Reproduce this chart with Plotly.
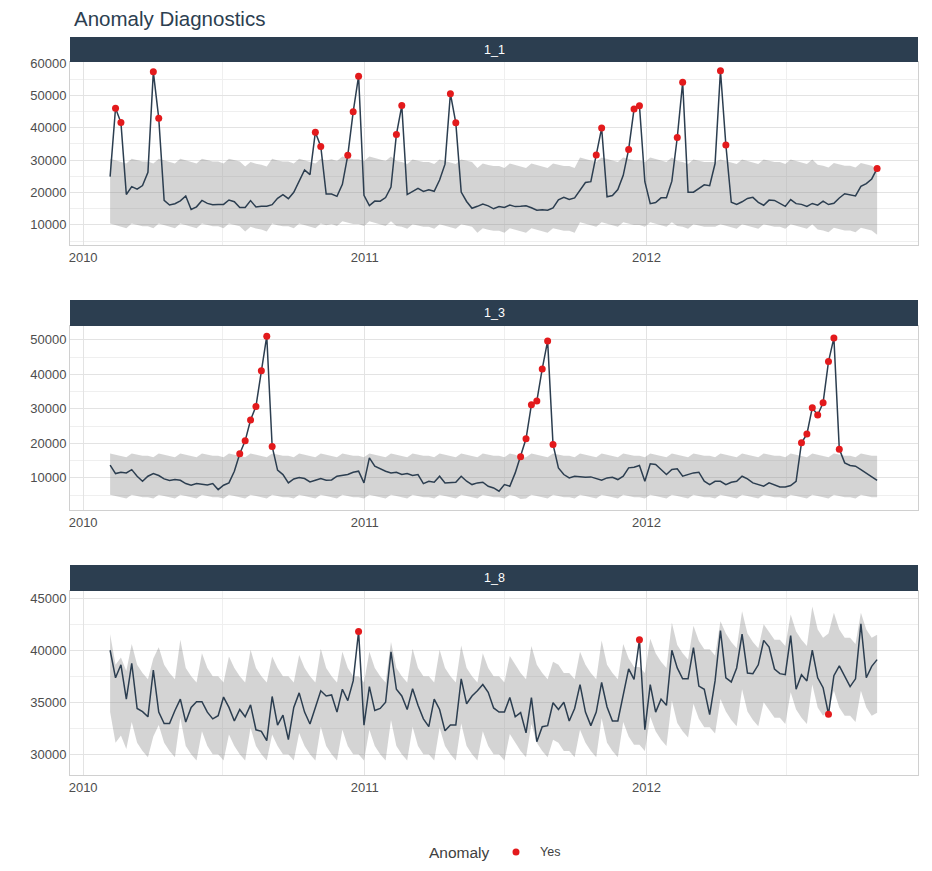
import pandas as pd
import plotly.graph_objects as go

# ---------------- data ----------------
start_date = "2010-02-05"
n_weeks = 143
panel_labels = ["1_1", "1_3", "1_8"]
legend_title = "Anomaly"
legend_item = "Yes"
chart_title = "Anomaly Diagnostics"

dept1_values = [
    24924.50, 46039.49, 41595.55, 19403.54, 21827.90, 21043.39, 22136.64, 26229.21, 57258.43, 42960.91,
    17596.96, 16145.35, 16555.11, 17413.94, 18926.74, 14773.04, 15580.43, 17558.09, 16637.62, 16216.27,
    16328.72, 16333.14, 17688.76, 17150.84, 15360.45, 15381.82, 17508.41, 15536.40, 15740.13, 15793.87,
    16241.78, 18194.74, 19354.23, 18122.52, 20094.19, 23388.03, 26978.34, 25543.04, 38640.93, 34238.88,
    19549.39, 19552.84, 18820.29, 22517.56, 31497.65, 44912.86, 55931.23, 19124.58, 15984.24, 17359.70,
    17341.47, 18461.18, 21665.76, 37887.17, 46845.87, 19363.83, 20327.61, 21280.40, 20334.23, 20881.10,
    20398.09, 23873.79, 28762.37, 50510.31, 41512.39, 20138.19, 17235.15, 15136.78, 15741.60, 16434.15,
    15883.52, 14978.09, 15682.81, 15363.50, 16148.87, 15654.85, 15766.60, 15922.41, 15295.55, 14539.79,
    14689.24, 14537.37, 15277.27, 17746.68, 18535.48, 17859.30, 18337.68, 20797.58, 23077.55, 23351.80,
    31579.90, 39886.06, 18689.54, 19050.66, 20911.25, 25293.49, 33305.92, 45773.03, 46788.75, 23350.88,
    16567.69, 16894.40, 18365.10, 18378.16, 23510.49, 36988.49, 54060.10, 20124.22, 20113.03, 21140.07,
    22366.88, 22107.70, 28952.86, 57592.12, 34684.21, 16976.19, 16347.60, 17147.44, 18164.20, 18517.79,
    16963.55, 16065.49, 17666.00, 17558.82, 16633.41, 15722.82, 17823.37, 16566.18, 16348.06, 15731.18,
    16628.31, 16119.92, 17330.70, 16286.40, 16680.24, 18322.37, 19616.22, 19251.50, 18947.81, 21904.47,
    22764.01, 24185.27, 27390.81,
]
dept1_upper = [
    30400, 29900, 29600, 29000, 30400, 29900, 29600, 29600, 29000, 30400,
    29900, 29600, 29000, 30400, 29900, 29600, 29000, 30400, 29900, 29600,
    29600, 29000, 30400, 29900, 29600, 28000, 29400, 28900, 28600, 28000,
    30400, 29900, 29600, 29600, 29000, 30400, 29900, 29600, 29000, 30400,
    29900, 30300, 29700, 31100, 30600, 30300, 30300, 29700, 31100, 30600,
    30300, 29700, 31100, 29700, 29400, 28800, 30200, 29700, 29400, 29400,
    28800, 30200, 29700, 29400, 28800, 30200, 29700, 29400, 27600, 29000,
    28500, 28200, 28200, 27600, 29000, 28500, 28200, 27600, 29000, 28500,
    28200, 27600, 29000, 28500, 28200, 28200, 27600, 30800, 30300, 30000,
    29400, 30800, 30300, 30000, 29400, 30800, 30300, 30000, 30000, 29400,
    30800, 30300, 30000, 29400, 30800, 29700, 29400, 28800, 30200, 29700,
    29400, 29400, 29400, 30200, 29700, 29400, 28800, 30200, 29700, 29400,
    28800, 30200, 29700, 29400, 29400, 28800, 30200, 29700, 29400, 28800,
    30200, 28600, 28300, 27700, 29100, 28600, 28300, 28300, 27700, 29100,
    28600, 28300, 27000,
]
dept1_lower = [
    10400, 9900, 9600, 9000, 10400, 9900, 9600, 9600, 9000, 10400,
    9900, 9600, 9000, 10400, 9900, 9600, 9000, 10400, 9900, 9600,
    9600, 9000, 10400, 9900, 9600, 8000, 9400, 8900, 8600, 8000,
    10400, 9900, 9600, 9600, 9000, 10400, 9900, 9600, 9000, 10400,
    9900, 10300, 9700, 11100, 10600, 10300, 10300, 9700, 11100, 10600,
    10300, 9700, 11100, 9700, 9400, 8800, 10200, 9700, 9400, 9400,
    8800, 10200, 9700, 9400, 8800, 10200, 9700, 9400, 7600, 9000,
    8500, 8200, 8200, 7600, 9000, 8500, 8200, 7600, 9000, 8500,
    8200, 7600, 9000, 8500, 8200, 8200, 7600, 10800, 10300, 10000,
    9400, 10800, 10300, 10000, 9400, 10800, 10300, 10000, 10000, 9400,
    10800, 10300, 10000, 9400, 10800, 9700, 9400, 8800, 10200, 9700,
    9400, 9400, 9400, 10200, 9700, 9400, 8800, 10200, 9700, 9400,
    8800, 10200, 9700, 9400, 9400, 8800, 10200, 9700, 9400, 8800,
    10200, 8600, 8300, 7700, 9100, 8600, 8300, 8300, 7700, 9100,
    8600, 8300, 7000,
]
dept1_anomaly_idx = [1, 2, 8, 9, 38, 39, 44, 45, 46, 53, 54, 63, 64,
                     90, 91, 96, 97, 98, 105, 106, 113, 114, 142]

dept3_values = [
    13700, 11260, 11650, 11450, 12400, 10480, 9030, 10480, 11260, 10680,
    9710, 9220, 9500, 9320, 8350, 7870, 8350, 8260, 7970, 8350,
    6610, 7870, 8550, 11940, 16970, 20740, 26750, 30710, 41070, 51040,
    19100, 12230, 10970, 8550, 9710, 10100, 9810, 8840, 9320, 9810,
    9320, 9420, 10480, 10770, 10970, 11650, 11940, 8550, 15810, 13390,
    12610, 11940, 11450, 11650, 10970, 11260, 10680, 10970, 8350, 9030,
    8740, 10480, 8550, 8740, 8740, 10480, 9030, 8060, 8550, 8740,
    7580, 7100, 6130, 8060, 7580, 11450, 16100, 21330, 31200, 32260,
    41560, 49690, 19680, 12900, 10970, 10000, 10480, 10290, 10190, 10290,
    9710, 9320, 10000, 10190, 9520, 10480, 12900, 13100, 13580, 9030,
    14070, 13870, 12420, 10970, 12420, 12610, 10480, 10970, 11450, 11650,
    9030, 8060, 9030, 9030, 8060, 8740, 9030, 10480, 9710, 8550,
    8060, 7580, 8550, 8060, 7390, 7390, 7770, 9030, 20160, 22680,
    30330, 28200, 31780, 43690, 50560, 18330, 14360, 13580, 13390, 12420,
    11450, 10480, 9300,
]
dept3_upper = [
    17100, 16700, 16400, 16000, 17100, 16700, 16400, 16400, 16000, 17100,
    16700, 16400, 16000, 17100, 16700, 16400, 16000, 17100, 16700, 16400,
    16400, 16000, 17100, 16700, 16400, 16000, 17100, 16700, 16400, 16000,
    17100, 16700, 16400, 16400, 16000, 17100, 16700, 16400, 16000, 17100,
    16700, 16400, 16000, 17100, 16700, 16400, 16400, 16000, 17100, 16700,
    16400, 16000, 17100, 16700, 16400, 16000, 17100, 16700, 16400, 16400,
    16000, 17100, 16700, 16400, 16000, 17100, 16700, 16400, 16000, 17100,
    16700, 16400, 16400, 16000, 17100, 16700, 15900, 16000, 17100, 16700,
    16400, 16000, 17100, 16700, 16400, 16400, 16000, 17100, 16700, 16400,
    16000, 17100, 16700, 16400, 16000, 17100, 16700, 16400, 16400, 16000,
    17100, 16700, 16400, 16000, 17100, 16700, 16400, 16000, 17100, 16700,
    16400, 16400, 16000, 17100, 16700, 16400, 16000, 17100, 16700, 16400,
    16000, 17100, 16700, 16400, 16400, 16000, 17100, 16700, 16400, 16000,
    17100, 16700, 16400, 16000, 17100, 16700, 16400, 16400, 16000, 17100,
    16700, 16400, 16400,
]
dept3_lower = [
    5100, 4700, 4400, 4000, 5100, 4700, 4400, 4400, 4000, 5100,
    4700, 4400, 4000, 5100, 4700, 4400, 4000, 5100, 4700, 4400,
    4400, 4000, 5100, 4700, 4400, 4000, 5100, 4700, 4400, 4000,
    5100, 4700, 4400, 4400, 4000, 5100, 4700, 4400, 4000, 5100,
    4700, 4400, 4000, 5100, 4700, 4400, 4400, 4000, 5100, 4700,
    4400, 4000, 5100, 4700, 4400, 4000, 5100, 4700, 4400, 4400,
    4000, 5100, 4700, 4400, 4000, 5100, 4700, 4400, 4000, 5100,
    4700, 4400, 4400, 4000, 5100, 4700, 3900, 4000, 5100, 4700,
    4400, 4000, 5100, 4700, 4400, 4400, 4000, 5100, 4700, 4400,
    4000, 5100, 4700, 4400, 4000, 5100, 4700, 4400, 4400, 4000,
    5100, 4700, 4400, 4000, 5100, 4700, 4400, 4000, 5100, 4700,
    4400, 4400, 4000, 5100, 4700, 4400, 4000, 5100, 4700, 4400,
    4000, 5100, 4700, 4400, 4400, 4000, 5100, 4700, 4400, 4000,
    5100, 4700, 4400, 4000, 5100, 4700, 4400, 4400, 4000, 5100,
    4700, 4400, 4400,
]
dept3_anomaly_idx = [24, 25, 26, 27, 28, 29, 30,
                     76, 77, 78, 79, 80, 81, 82,
                     128, 129, 130, 131, 132, 133, 134, 135]

dept8_values = [
    40000, 37350, 38600, 35300, 38750, 34400, 34100, 33600, 38100, 34050,
    32950, 32950, 34200, 35300, 33100, 34500, 35050, 35050, 34050, 33400,
    33700, 35500, 34500, 33200, 34300, 33600, 34750, 32350, 32200, 31300,
    35550, 32800, 33750, 31400, 34500, 35900, 34050, 32900, 34500, 36100,
    35600, 35700, 34050, 36250, 35150, 37050, 41800, 32800, 36500, 34200,
    34400, 35000, 39850, 36250, 35600, 34300, 36300, 34700, 33400, 32650,
    35300, 34300, 32250, 32800, 32800, 37250, 34850, 35600, 36100, 36700,
    35950, 34450, 34050, 34050, 35450, 33600, 34000, 32050, 35450, 31200,
    32650, 32750, 34950, 34300, 35000, 33200, 34400, 36700, 34050, 32750,
    34050, 36900, 34550, 33200, 33200, 35600, 38200, 37200, 41000, 32350,
    36700, 34050, 35300, 34700, 40000, 38300, 37250, 37250, 40250, 36550,
    36250, 33800, 37050, 41900, 37350, 36950, 38300, 41550, 37800, 37750,
    38600, 40950, 40300, 38200, 37750, 37650, 41400, 36250, 37650, 37050,
    40000, 37350, 36400, 33850, 37550, 38500, 37450, 36500, 37250, 42550,
    37350, 38450, 39100,
]
dept8_upper = [
    41550, 38600, 39300, 38000, 40600, 38600, 37800, 37200, 39200, 40300,
    38600, 37800, 37200, 41000, 38300, 37500, 36900, 39700, 38300, 37500,
    37500, 36900, 39400, 38300, 37500, 36900, 40050, 38300, 37500, 36900,
    39400, 38300, 37500, 37500, 36900, 39550, 38300, 37500, 36900, 40150,
    38300, 37500, 36900, 39850, 38300, 37500, 37500, 36900, 39850, 38300,
    37500, 36900, 40800, 38300, 37500, 36900, 40150, 38300, 37500, 37500,
    36900, 40050, 38300, 37500, 36900, 40450, 38300, 37500, 36900, 39700,
    38300, 37500, 37500, 36900, 39450, 38600, 37800, 37200, 40400, 38600,
    37800, 37200, 38900, 38600, 37800, 37800, 37200, 39850, 38600, 37800,
    37200, 40950, 38600, 37800, 37200, 40600, 39200, 38400, 38400, 37800,
    41100, 39700, 38900, 38300, 42650, 40500, 39700, 39100, 42350, 40900,
    40100, 40100, 39500, 42800, 41600, 40800, 40200, 43750, 41600, 40800,
    40200, 42500, 41800, 41000, 41000, 40400, 43450, 41800, 41000, 40400,
    44200, 42000, 41200, 41600, 43600, 42000, 41200, 41200, 40600, 43600,
    42000, 41200, 41500,
]
dept8_lower = [
    34050, 31100, 31800, 30500, 33100, 31100, 30300, 29700, 31700, 32800,
    31100, 30300, 29700, 33500, 30800, 30000, 29400, 32200, 30800, 30000,
    30000, 29400, 31900, 30800, 30000, 29400, 32550, 30800, 30000, 29400,
    31900, 30800, 30000, 30000, 29400, 32050, 30800, 30000, 29400, 32650,
    30800, 30000, 29400, 32350, 30800, 30000, 30000, 29400, 32350, 30800,
    30000, 29400, 33300, 30800, 30000, 29400, 32650, 30800, 30000, 30000,
    29400, 32550, 30800, 30000, 29400, 32950, 30800, 30000, 29400, 32200,
    30800, 30000, 30000, 29400, 31950, 31100, 30300, 29700, 32900, 31100,
    30300, 29700, 31400, 31100, 30300, 30300, 29700, 32350, 31100, 30300,
    29700, 33450, 31100, 30300, 29700, 33100, 31700, 30900, 30900, 30300,
    33600, 32200, 31400, 30800, 35150, 33000, 32200, 31600, 34850, 33400,
    32600, 32600, 32000, 35300, 34100, 33300, 32700, 36250, 34100, 33300,
    32700, 35000, 34300, 33500, 33500, 32900, 35950, 34300, 33500, 32900,
    36700, 34500, 33700, 34300, 36100, 34500, 33700, 33700, 33100, 36100,
    34500, 33700, 34000,
]
dept8_anomaly_idx = [46, 98, 133]

y_ranges = [[3800, 60300], [700, 54000], [28000, 45700]]
y_dticks = [10000, 10000, 5000]
x_range = ["2009-12-15", "2012-12-18"]

# ---------------- styling ----------------
LINE_COLOR = "#2c3e50"
STRIP_COLOR = "#2c3e50"
BAND_COLOR = "rgba(120,120,120,0.32)"
ANOM_COLOR = "#e31a1c"
GRID_MAJOR = "#e3e3e3"
GRID_MINOR = "#efefef"
FONT = "Liberation Sans, Arial, sans-serif"

# the page body has an 8px margin, so the figure is 16px smaller than the window
W, H = 916, 855
ML, MR = 62, 6
PW = W - ML - MR
# pixel positions (top, bottom) inside the figure
plot_px = [(54, 237), (318, 502), (583, 767)]
strip_px = [(29, 54), (292, 318), (557, 583)]


def py(p):
    return 1 - p / H


def px(p):
    return (p - ML) / PW


dates = pd.date_range(start_date, periods=n_weeks, freq="7D")

panels = [
    (dept1_values, dept1_upper, dept1_lower, dept1_anomaly_idx),
    (dept3_values, dept3_upper, dept3_lower, dept3_anomaly_idx),
    (dept8_values, dept8_upper, dept8_lower, dept8_anomaly_idx),
]

fig = go.Figure()
shapes = []
annotations = []

for k, (vals, up, lo, anom) in enumerate(panels):
    sfx = "" if k == 0 else str(k + 1)
    xa, ya = "x" + sfx, "y" + sfx
    fig.add_trace(go.Scatter(x=dates, y=lo, mode="lines", line=dict(width=0),
                             hoverinfo="skip", showlegend=False, xaxis=xa, yaxis=ya))
    fig.add_trace(go.Scatter(x=dates, y=up, mode="lines", line=dict(width=0),
                             fill="tonexty", fillcolor=BAND_COLOR,
                             hoverinfo="skip", showlegend=False, xaxis=xa, yaxis=ya))
    fig.add_trace(go.Scatter(x=dates, y=vals, mode="lines",
                             line=dict(color=LINE_COLOR, width=1.5),
                             showlegend=False, xaxis=xa, yaxis=ya))
    fig.add_trace(go.Scatter(x=[dates[i] for i in anom], y=[vals[i] for i in anom],
                             mode="markers", marker=dict(color=ANOM_COLOR, size=7),
                             name=legend_item, showlegend=False, xaxis=xa, yaxis=ya))

    top, bot = plot_px[k]
    axis_common = dict(showline=True, linecolor="#d0d0d0", linewidth=1, mirror=True,
                       ticks="", tickfont=dict(size=13, color="#4d4d4d", family=FONT),
                       showgrid=True, gridcolor=GRID_MAJOR, gridwidth=1, zeroline=False,
                       automargin=False)
    fig.layout["xaxis" + sfx] = dict(
        domain=[0, 1], anchor=ya, type="date", range=x_range,
        tick0="2010-01-01", dtick="M12", tickformat="%Y",
        minor=dict(dtick="M6", tick0="2010-01-01", showgrid=True,
                   gridcolor=GRID_MINOR, gridwidth=0.8),
        **axis_common)
    fig.layout["yaxis" + sfx] = dict(
        domain=[py(bot), py(top)], anchor=xa, range=y_ranges[k],
        tick0=0, dtick=y_dticks[k], tickformat="d",
        minor=dict(tick0=0, dtick=y_dticks[k] / 2, showgrid=True,
                   gridcolor=GRID_MINOR, gridwidth=0.8),
        **axis_common)

    s_top, s_bot = strip_px[k]
    shapes.append(dict(type="rect", xref="paper", yref="paper", x0=0, x1=1,
                       y0=py(s_bot), y1=py(s_top), fillcolor=STRIP_COLOR,
                       line=dict(width=0), layer="above"))
    annotations.append(dict(text=panel_labels[k], xref="paper", yref="paper",
                            x=0.5, y=py((s_top + s_bot) / 2), xanchor="center",
                            yanchor="middle", showarrow=False,
                            font=dict(color="white", size=12.5, family=FONT)))

# title
annotations.append(dict(text=chart_title, xref="paper", yref="paper",
                        x=px(64), y=py(10), xanchor="left", yanchor="middle",
                        showarrow=False, font=dict(size=20.5, color="#2c3e50", family=FONT)))

# manual legend (kept inside the figure so nothing is clipped)
legend_y = py(844)
annotations.append(dict(text=legend_title, xref="paper", yref="paper",
                        x=px(419), y=legend_y, xanchor="left", yanchor="middle",
                        showarrow=False, font=dict(size=15.5, color="#404040", family=FONT)))
annotations.append(dict(text=legend_item, xref="paper", yref="paper",
                        x=px(530), y=legend_y, xanchor="left", yanchor="middle",
                        showarrow=False, font=dict(size=12.5, color="#404040", family=FONT)))
shapes.append(dict(type="circle", xref="paper", yref="paper",
                   xsizemode="pixel", ysizemode="pixel",
                   xanchor=px(508), yanchor=legend_y,
                   x0=-3.5, x1=3.5, y0=-3.5, y1=3.5,
                   fillcolor=ANOM_COLOR, line=dict(width=0)))

fig.update_layout(
    width=W, height=H,
    margin=dict(l=ML, r=MR, t=0, b=0, autoexpand=False),
    paper_bgcolor="white", plot_bgcolor="white",
    font=dict(family=FONT, color="#4d4d4d"),
    shapes=shapes, annotations=annotations,
    showlegend=False,
    hovermode=False,
)

fig.write_html("out.html")
